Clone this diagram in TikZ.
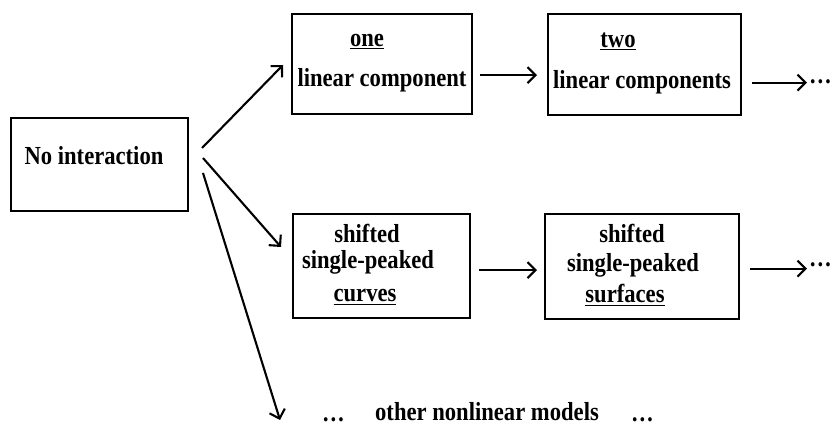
\documentclass[tikz,border=0pt]{standalone}
\usepackage{fontspec}
\setmainfont{Liberation Serif}[FakeStretch=0.87]
\usetikzlibrary{arrows.meta}
\begin{document}
\begin{tikzpicture}[x=1pt,y=-1pt,
  font=\fontsize{26}{30}\selectfont\bfseries,
  box/.style={draw, line width=2.4pt, inner sep=0pt, anchor=north west},
  lbl/.style={anchor=base, inner sep=0pt},
  arr/.style={line width=2.1pt, -{Straight Barb[length=8pt,width=16pt,line width=2.1pt]}}]
\useasboundingbox (0,0) rectangle (832,427);

% boxes
\node[box, minimum width=177pt, minimum height=93pt] (noint) at (10,117) {};
\node[box, minimum width=180pt, minimum height=100pt] (one) at (291,13) {};
\node[box, minimum width=193pt, minimum height=101pt] (two) at (547,13) {};
\node[box, minimum width=177pt, minimum height=104pt] (curves) at (292,213) {};
\node[box, minimum width=194pt, minimum height=105pt] (surf) at (544,213) {};

% box texts
\node[lbl] (tnoint) at (94,165) {No interaction};
\node[lbl] (tone) at (367,47) {\underline{one}};
\node[lbl] (tone2) at (382,87) {linear component};
\node[lbl] (ttwo) at (618,48) {\underline{two}};
\node[lbl] (ttwo2) at (642,89) {linear components};
\node[lbl] (tc1) at (367,243) {shifted};
\node[lbl] (tc2) at (368,269) {single-peaked};
\node[lbl] (tc3) at (365,302) {\underline{curves}};
\node[lbl] (ts1) at (632,243) {shifted};
\node[lbl] (ts2) at (633,272) {single-peaked};
\node[lbl] (ts3) at (625,303) {\underline{surfaces}};

% continuation marks
\node[lbl, anchor=base west] (d1) at (809,84) {\ldots};
\node[lbl, anchor=base west] (d2) at (809,267) {\ldots};
\node[lbl, anchor=base west] (d3) at (322,421) {\ldots};
\node[lbl] (other) at (487,420) {other nonlinear models};
\node[lbl, anchor=base west] (d4) at (631,421) {\ldots};

% branch points
\coordinate (s1) at (202,148);
\coordinate (s2) at (203,158);
\coordinate (s3) at (203,173);
\coordinate (e1) at (283,65);
\coordinate (e2) at (281,247);
\coordinate (e3) at (280,420);

\draw[arr] (s1) -- (e1);
\draw[arr] (s2) -- (e2);
\draw[arr] (s3) -- (e3);

% chains
\draw[arr, shorten <=7pt, shorten >=10pt] ([yshift=-11pt]one.east) -- ([yshift=-11pt]one.east -| two.west);
\draw[arr, shorten <=10pt, shorten >=2pt] ([yshift=-18pt]two.east) -- ([yshift=-18pt]two.east -| d1.west);
\draw[arr, shorten <=8pt, shorten >=7pt] ([yshift=-4pt]curves.east) -- ([yshift=-4pt]curves.east -| surf.west);
\draw[arr, shorten <=10pt, shorten >=2pt] ([yshift=-2pt]surf.east) -- ([yshift=-2pt]surf.east -| d2.west);
\end{tikzpicture}
\end{document}
